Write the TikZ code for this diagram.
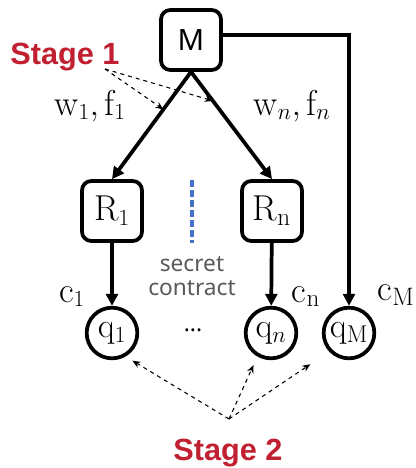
\documentclass[tikz,border=0pt]{standalone}
\usepackage{fontspec}
\newfontfamily\labelsans{Noto Sans}
\newfontfamily\stagesans{Liberation Sans}
\usetikzlibrary{arrows.meta,positioning}
\definecolor{stagered}{RGB}{192,32,48}
\definecolor{contractblue}{RGB}{68,114,196}
\definecolor{notegray}{RGB}{89,89,89}

\begin{document}
\begin{tikzpicture}[
    x=0.75pt, y=-0.75pt,
    box/.style={draw, rounded corners=7pt, line width=2.8pt, minimum width=45pt, minimum height=45pt, font=\fontsize{27}{30}\selectfont},
    pool/.style={draw, circle, line width=2.8pt, minimum size=38pt, inner sep=0pt, font=\fontsize{26}{30}\selectfont},
    arr/.style={-{Triangle[length=9pt,width=9pt]}, line width=2.8pt},
    hint/.style={-{Stealth[length=6pt,width=5pt]}, dashed, line width=0.8pt},
    lbl/.style={anchor=base, font=\fontsize{27}{30}\selectfont},
    stage/.style={anchor=base, text=stagered, font=\stagesans\bfseries\fontsize{23}{28}\selectfont}
]
\useasboundingbox (0,0) rectangle (415,468);

\node[box, font=\labelsans\fontsize{22}{26}\selectfont] (m) at (191,40) {M};
\node[box] (r1) at (112,211) {$\mathrm{R}_1$};
\node[box] (rn) at (272,211) {$\mathrm{R}_\mathrm{n}$};
\node[pool] (q1) at (112,333) {$\mathrm{q}_1$};
\node[pool] (qn) at (271,333) {$\mathrm{q}_n$};
\node[pool] (qm) at (349,333) {$\mathrm{q}_\mathrm{M}$};
\node[font=\labelsans\fontsize{17}{18}\selectfont] (dots) at (193,330) {...};

% payments from M
\draw[arr] (m.south) -- coordinate[pos=0.35] (hit1) (r1.north);
\draw[arr] (m.south) -- coordinate[pos=0.27] (hitn) (rn.north);
\draw[arr] ([yshift=4pt]m.east) -| (qm.north);
\draw[arr] (r1) -- (q1);
\draw[arr] (rn) -- (qn);

\node[lbl] (wf1) at (90,115) {$\mathrm{w}_1,\mathrm{f}_1$};
\node[lbl] (wfn) at (292,115) {$\mathrm{w}_n,\mathrm{f}_n$};
\node[lbl] (c1) at (72,302) {$\mathrm{c}_1$};
\node[lbl] (cn) at (306,302) {$\mathrm{c}_\mathrm{n}$};
\node[lbl] (cm) at (396,300) {$\mathrm{c}_\mathrm{M}$};

% secret contract
\coordinate (septop) at (192,180);
\coordinate (sepbot) at (192,243);
\draw[contractblue, line width=2.6pt, dash pattern=on 5pt off 2.5pt] (septop) -- (sepbot);
\node[align=center, text=notegray, font=\labelsans\fontsize{17}{18}\selectfont] (secret) at (192,276) {secret\\contract};

% stages
\node[stage] (s1) at (65,64) {Stage 1};
\coordinate (s1fork) at (105,69);
\draw[hint] (s1fork) -- (hit1);
\draw[hint] (s1fork) -- (hitn);

\node[stage] (s2) at (228,460) {Stage 2};
\coordinate (s2fork) at (229,419);
\draw[hint, shorten >=6pt] (s2fork) -- (q1.-60);
\draw[hint, shorten >=7pt] (s2fork) -- (qn.-120);
\draw[hint, shorten >=17pt] (s2fork) -- (qm.-137);
\end{tikzpicture}
\end{document}
